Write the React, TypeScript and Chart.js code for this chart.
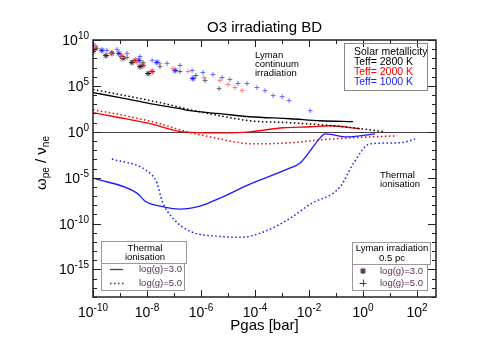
import React, { useEffect, useRef } from "react";
import { Chart, registerables } from "chart.js";
Chart.register(...registerables);

// ---- axis ranges (log10) ----
const X_MIN_LOG = -10;
const X_MAX_LOG = 2.7;
const Y_MIN_LOG = -18;
const Y_MAX_LOG = 10;

const xTickExps = [-10, -8, -6, -4, -2, 0, 2];
const yTickExps = [10, 5, 0, -5, -10, -15];

// ---- thermal ionisation curves (log10 Pgas, log10 ratio) ----
const black3LogP = [-10, -9.0, -7.89, -6.78, -6.41, -5.3, -4.19, -2.7, -1.59, -0.37];
const black3LogW = [4.27, 3.72, 3.07, 2.52, 2.3, 1.97, 1.64, 1.42, 1.2, 1.1];

const black5LogP = [-10, -8.63, -7.52, -6.41, -5.3, -4.19, -2.7, -1.59, -0.37, 0.81];
const black5LogW = [4.6, 3.83, 3.18, 2.41, 1.75, 1.2, 0.99, 0.77, 0.44, 0.0];

const red3LogP = [-10, -9.0, -7.89, -6.67, -5.3, -4.19, -2.96, -1.96, -1.22, -0.11];
const red3LogW = [2.08, 1.53, 0.88, 0.0, -0.11, 0.0, 0.44, 0.55, 0.66, 0.33];

const red5LogP = [-10, -8.63, -7.52, -6.67, -5.67, -4.07, -2.7, -1.59, -0.48, 1.26];
const red5LogW = [2.41, 1.64, 0.88, 0.11, -0.55, -1.31, -1.2, -0.88, -0.66, -0.44];

const blue3LogP = [-10, -8.37, -8.07, -7.52, -6.78, -6.04, -5.3, -4.19, -2.7, -2.33, -1.96, -1.59, -1.41, -0.59, 0.44];
const blue3LogW = [-5.04, -6.68, -7.56, -8.1, -8.43, -8.1, -7.23, -5.7, -3.94, -3.4, -2.08, -0.66, -0.22, -0.55, -0.22];

const blue5LogP = [-9.3, -8.0, -7.63, -7.44, -7.04, -6.41, -5.3, -4.56, -3.63, -2.7, -1.96, -0.85, -0.37, 0.26, 1.37, 1.93];
const blue5LogW = [-2.96, -4.27, -5.59, -7.56, -9.42, -10.84, -11.4, -11.5, -10.84, -9.42, -7.89, -6.0, -3.5, -1.31, -1.2, -0.77];

// ---- Lyman irradiation markers ----
const black3StarLogP = [-10, -9.52, -8.89, -8.56, -8.26, -7.96];
const black3StarLogW = [8.76, 8.3, 8.0, 7.56, 7.1, 6.35];

const black5PlusLogP = [-9.85, -9.3, -8.74, -8.15, -7.52, -6.78, -6.19, -5.85, -5.33];
const black5PlusLogW = [9.1, 8.65, 8.1, 7.56, 7.1, 6.57, 6.13, 5.59, 4.7];

const red3StarLogP = [-9.93, -9.3, -8.93, -8.44, -8.15, -7.81];
const red3StarLogW = [9.1, 8.54, 8.2, 7.78, 7.23, 6.57];

const red5PlusLogP = [-9.93, -9.37, -8.93, -8.37, -7.52, -7.04, -6.48, -5.89, -5.3, -5.0, -4.74, -4.48];
const red5PlusLogW = [9.2, 8.54, 8.1, 7.56, 7.45, 6.9, 6.57, 5.9, 5.59, 5.15, 4.82, 4.49];

const blue3StarLogP = [-9.67, -9.04, -8.3, -7.63, -6.96, -6.3];
const blue3StarLogW = [8.87, 8.54, 7.78, 7.56, 6.68, 5.8];

const blue5PlusLogP = [-9.93, -9.48, -9.11, -8.74, -8.26, -7.81, -7.26, -6.78, -6.33, -5.93, -5.56, -5.22, -4.93, -4.63, -4.3, -3.93, -3.63, -3.33, -3.0, -2.74, -1.96];
const blue5PlusLogW = [9.42, 8.87, 8.98, 8.54, 8.2, 7.78, 7.45, 7.23, 6.68, 6.46, 6.24, 5.91, 5.7, 5.26, 5.26, 4.82, 4.49, 3.94, 3.83, 3.4, 2.3];

const BLACK = "#000000";
const RED = "#ff0000";
const BLUE = "#1a1aff";
const LEG = "#5a2d5a";
const FONT = "'Liberation Sans', Arial, sans-serif";

const pts = (lp: number[], lw: number[]) => lp.map((p, i) => ({ x: Math.pow(10, p), y: Math.pow(10, lw[i]) }));

function lineDs(lp: number[], lw: number[], color: string, dotted: boolean) {
  return {
    data: pts(lp, lw),
    showLine: true,
    borderColor: color,
    backgroundColor: color,
    borderWidth: dotted ? 1.5 : 1.3,
    borderDash: dotted ? [1.5, 2.5] : [],
    pointRadius: 0,
    cubicInterpolationMode: "monotone" as const,
  };
}

function markDs(lp: number[], lw: number[], color: string, style: string) {
  return {
    data: pts(lp, lw),
    showLine: false,
    borderColor: color,
    backgroundColor: color,
    pointStyle: style,
    pointRadius: style === "star" ? 2.9 : 2.4,
    pointBorderWidth: style === "star" ? 1 : 0.9,
  };
}

function drawPow(ctx: CanvasRenderingContext2D, exp: number, x: number, y: number, align: "right" | "center") {
  const big = `14px ${FONT}`;
  const small = `10px ${FONT}`;
  const expStr = exp < 0 ? "-" + Math.abs(exp) : String(exp);
  ctx.font = big;
  const w1 = ctx.measureText("10").width;
  ctx.font = small;
  const w2 = ctx.measureText(expStr).width;
  const total = w1 + w2;
  const x0 = align === "right" ? x - total : x - total / 2;
  ctx.textAlign = "left";
  ctx.textBaseline = "alphabetic";
  ctx.fillStyle = "#000";
  ctx.font = big;
  ctx.fillText("10", x0, y);
  ctx.font = small;
  ctx.fillText(expStr, x0 + w1, y - 6);
}

const decor = {
  id: "decor",
  beforeDatasetsDraw(chart: any) {
    const { ctx, chartArea: a, scales } = chart;
    const y1 = scales.y.getPixelForValue(1);
    ctx.save();
    ctx.strokeStyle = "#4a3a4a";
    ctx.lineWidth = 1;
    ctx.beginPath();
    ctx.moveTo(a.left, Math.round(y1) + 0.5);
    ctx.lineTo(a.right, Math.round(y1) + 0.5);
    ctx.stroke();
    ctx.restore();
  },
  afterDraw(chart: any) {
    const { ctx, chartArea: a, scales } = chart;
    const xs = scales.x;
    const ys = scales.y;
    ctx.save();
    // frame
    ctx.strokeStyle = "#222";
    ctx.lineWidth = 1.5;
    ctx.strokeRect(a.left, a.top, a.right - a.left, a.bottom - a.top);
    // ticks
    ctx.lineWidth = 1;
    ctx.beginPath();
    for (let e = Math.ceil(X_MIN_LOG); e <= Math.floor(X_MAX_LOG); e++) {
      const px = Math.round(xs.getPixelForValue(Math.pow(10, e))) + 0.5;
      const len = e % 2 === 0 ? 7 : 4;
      ctx.moveTo(px, a.bottom);
      ctx.lineTo(px, a.bottom - len);
      ctx.moveTo(px, a.top);
      ctx.lineTo(px, a.top + len);
    }
    for (let e = Y_MIN_LOG; e <= Y_MAX_LOG; e++) {
      const py = Math.round(ys.getPixelForValue(Math.pow(10, e))) + 0.5;
      const len = e % 5 === 0 ? 8 : 4;
      ctx.moveTo(a.left, py);
      ctx.lineTo(a.left + len, py);
      ctx.moveTo(a.right, py);
      ctx.lineTo(a.right - len, py);
    }
    ctx.stroke();
    // tick labels
    for (const e of xTickExps) {
      const px = xs.getPixelForValue(Math.pow(10, e));
      drawPow(ctx, e, px, a.bottom + 20, "center");
    }
    for (const e of yTickExps) {
      const py = ys.getPixelForValue(Math.pow(10, e));
      drawPow(ctx, e, 89, py + 5, "right");
    }
    // title
    ctx.fillStyle = "#000";
    ctx.textAlign = "center";
    ctx.textBaseline = "middle";
    ctx.font = `15px ${FONT}`;
    ctx.fillText("O3 irradiating BD", (a.left + a.right) / 2, 28);
    // x title
    ctx.fillText("Pgas [bar]", (a.left + a.right) / 2, 326);
    // y title (rotated)
    ctx.save();
    ctx.translate(45.5, 163);
    ctx.rotate(-Math.PI / 2);
    const segs: [string, number, number][] = [
      ["ω", 15, 0],
      ["pe", 10, 3.5],
      [" / ", 15, 0],
      ["ν", 15, 0],
      ["ne", 10, 3.5],
    ];
    let tw = 0;
    for (const [t, s] of segs) {
      ctx.font = `${s}px ${FONT}`;
      tw += ctx.measureText(t).width;
    }
    let cx = -tw / 2;
    ctx.textAlign = "left";
    ctx.textBaseline = "alphabetic";
    for (const [t, s, dy] of segs) {
      ctx.font = `${s}px ${FONT}`;
      ctx.fillText(t, cx, dy);
      cx += ctx.measureText(t).width;
    }
    ctx.restore();

    // annotations
    ctx.font = `9.5px ${FONT}`;
    ctx.textAlign = "left";
    ctx.textBaseline = "middle";
    ctx.fillStyle = "#000";
    ctx.fillText("Lyman", 255, 55);
    ctx.fillText("continuum", 255, 64);
    ctx.fillText("irradiation", 255, 73);
    ctx.fillText("Thermal", 380, 175);
    ctx.fillText("ionisation", 380, 184);

    // top-right legend
    ctx.strokeStyle = "#888";
    ctx.lineWidth = 1;
    ctx.strokeRect(344.5, 43.5, 83, 47);
    ctx.font = `10.5px ${FONT}`;
    ctx.fillStyle = "#000";
    ctx.fillText("Solar metallicity", 354, 52);
    ctx.fillText("Teff= 2800 K", 354, 62);
    ctx.fillStyle = RED;
    ctx.fillText("Teff= 2000 K", 354, 72);
    ctx.fillStyle = BLUE;
    ctx.fillText("Teff= 1000 K", 354, 82);

    // bottom-left legend
    ctx.strokeStyle = "#999";
    ctx.strokeRect(101.5, 241.5, 85, 22);
    ctx.strokeRect(101.5, 263.5, 83, 27);
    ctx.fillStyle = "#000";
    ctx.textAlign = "center";
    ctx.font = `9.5px ${FONT}`;
    ctx.fillText("Thermal", 145, 248);
    ctx.fillText("ionisation", 145, 257);
    ctx.strokeStyle = LEG;
    ctx.lineWidth = 1.3;
    ctx.beginPath();
    ctx.moveTo(110, 269.5);
    ctx.lineTo(123, 269.5);
    ctx.stroke();
    ctx.setLineDash([1.5, 2.5]);
    ctx.lineWidth = 1.5;
    ctx.beginPath();
    ctx.moveTo(110, 283.5);
    ctx.lineTo(126, 283.5);
    ctx.stroke();
    ctx.setLineDash([]);
    ctx.fillStyle = LEG;
    ctx.textAlign = "left";
    ctx.fillText("log(g)=3.0", 139, 269);
    ctx.fillText("log(g)=5.0", 139, 283);

    // bottom-right legend
    ctx.strokeStyle = "#999";
    ctx.lineWidth = 1;
    ctx.strokeRect(352.5, 242.5, 78, 22);
    ctx.strokeRect(352.5, 264.5, 75, 26);
    ctx.fillStyle = "#000";
    ctx.textAlign = "center";
    ctx.fillText("Lyman irradiation", 392, 248);
    ctx.fillText("0.5 pc", 392, 258);
    ctx.fillStyle = LEG;
    ctx.textAlign = "left";
    ctx.fillText("log(g)=3.0", 380, 271);
    ctx.fillText("log(g)=5.0", 380, 283);
    ctx.strokeStyle = LEG;
    ctx.lineWidth = 1.2;
    const r = 3.2;
    ctx.beginPath();
    // asterisk
    const ax = 363, ay = 271;
    ctx.moveTo(ax - r, ay); ctx.lineTo(ax + r, ay);
    ctx.moveTo(ax, ay - r); ctx.lineTo(ax, ay + r);
    ctx.moveTo(ax - r * 0.75, ay - r * 0.75); ctx.lineTo(ax + r * 0.75, ay + r * 0.75);
    ctx.moveTo(ax - r * 0.75, ay + r * 0.75); ctx.lineTo(ax + r * 0.75, ay - r * 0.75);
    ctx.stroke();
    ctx.lineWidth = 1;
    ctx.beginPath();
    // plus
    const bx = 363, by = 283;
    ctx.moveTo(bx - 3.5, by + 0.5); ctx.lineTo(bx + 3.5, by + 0.5);
    ctx.moveTo(bx + 0.5, by - 3.5); ctx.lineTo(bx + 0.5, by + 3.5);
    ctx.stroke();

    ctx.restore();
  },
};

export default function App() {
  const ref = useRef<HTMLCanvasElement | null>(null);
  useEffect(() => {
    if (!ref.current) return;
    const chart = new Chart(ref.current, {
      type: "scatter",
      data: {
        datasets: [
          lineDs(black3LogP, black3LogW, BLACK, false),
          lineDs(black5LogP, black5LogW, BLACK, true),
          lineDs(red3LogP, red3LogW, RED, false),
          lineDs(red5LogP, red5LogW, RED, true),
          lineDs(blue3LogP, blue3LogW, BLUE, false),
          lineDs(blue5LogP, blue5LogW, BLUE, true),
          markDs(black5PlusLogP, black5PlusLogW, "#555555", "cross"),
          markDs(red5PlusLogP, red5PlusLogW, "#ff7070", "cross"),
          markDs(blue5PlusLogP, blue5PlusLogW, "#5a5aff", "cross"),
          markDs(black3StarLogP, black3StarLogW, "#222222", "star"),
          markDs(red3StarLogP, red3StarLogW, RED, "star"),
          markDs(blue3StarLogP, blue3StarLogW, BLUE, "star"),
        ] as any,
      },
      options: {
        animation: false,
        responsive: false,
        layout: { padding: { left: 93, right: 62, top: 40, bottom: 59 } },
        plugins: { legend: { display: false }, tooltip: { enabled: false }, title: { display: false } },
        scales: {
          x: { type: "logarithmic", display: false, min: Math.pow(10, X_MIN_LOG), max: Math.pow(10, X_MAX_LOG) },
          y: { type: "logarithmic", display: false, min: Math.pow(10, Y_MIN_LOG), max: Math.pow(10, Y_MAX_LOG) },
        },
      },
      plugins: [decor],
    });
    return () => chart.destroy();
  }, []);
  return (
    <div style={{ position: "fixed", left: 0, top: 0, width: 498, height: 356, background: "#fff" }}>
      <canvas ref={ref} width={498} height={356} />
    </div>
  );
}
